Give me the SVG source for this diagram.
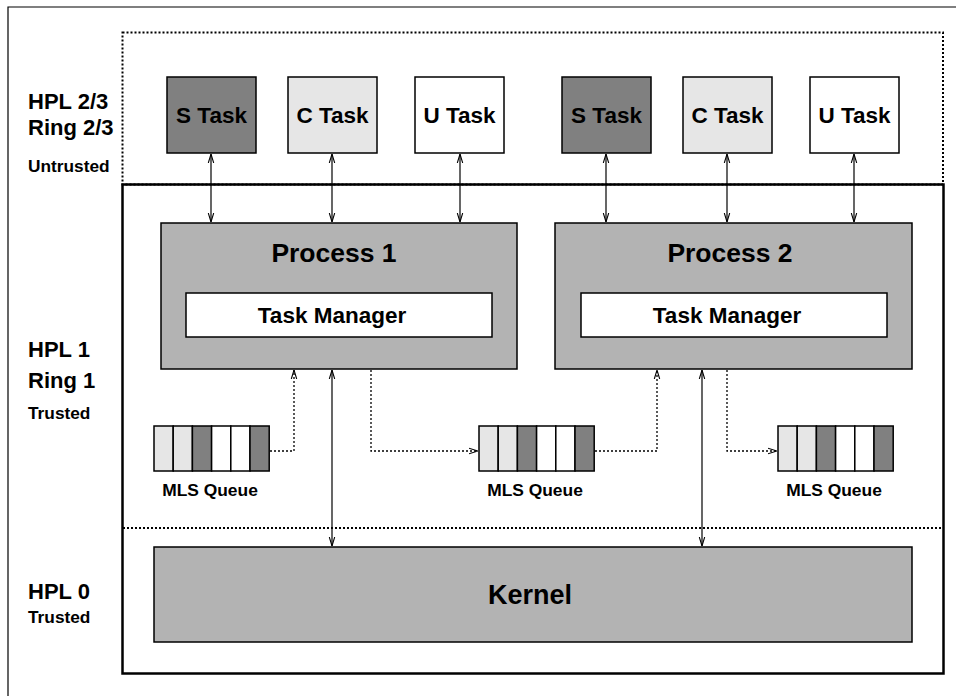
<svg xmlns="http://www.w3.org/2000/svg" width="956" height="696" viewBox="0 0 956 696">
<style>
text{font-family:"Liberation Sans",Arial,sans-serif;font-weight:bold;fill:#000}
.box{stroke:#000;stroke-width:1.5}
.dk{fill:#808080}.lt{fill:#e6e6e6}.wh{fill:#fff}.gr{fill:#b3b3b3}
.conn{stroke:#000;stroke-width:1.2;fill:none}
.dot{stroke:#000;stroke-width:1.3;fill:none;stroke-dasharray:2 2}
.tk{font-size:22.5px}
.lbl{font-size:22px}
.sm{font-size:17.3px}
.q{font-size:17.4px}
.tm{font-size:22.5px}
</style>
<defs>
<marker id="ah" viewBox="0 0 10 10" refX="10" refY="5" markerWidth="9" markerHeight="9" markerUnits="userSpaceOnUse" orient="auto-start-reverse">
<path d="M0,2 L10,5 L0,8" fill="none" stroke="#000" stroke-width="1.2"/>
</marker>
</defs>
<rect width="956" height="696" fill="#fff"/>
<!-- outer frame -->
<path d="M8,700 L8,7 L960,7" fill="none" stroke="#000" stroke-width="1.2"/>
<!-- untrusted dotted area -->
<rect x="122.5" y="32.5" width="820.5" height="152" fill="none" stroke="#000" stroke-width="2" stroke-dasharray="2 2"/>
<!-- trusted solid area -->
<rect x="122.5" y="184.5" width="821" height="489" fill="none" stroke="#000" stroke-width="2.5"/>
<line x1="123" y1="528" x2="943" y2="528" stroke="#000" stroke-width="2" stroke-dasharray="2 2"/>

<g id="labels">
<text class="lbl" x="28" y="109">HPL 2/3</text>
<text class="lbl" x="28" y="135">Ring 2/3</text>
<text class="sm" x="28" y="172">Untrusted</text>
<text class="lbl" x="28" y="357">HPL 1</text>
<text class="lbl" x="28" y="388">Ring 1</text>
<text class="sm" x="28" y="419">Trusted</text>
<text class="lbl" x="28" y="599">HPL 0</text>
<text class="sm" x="28" y="623">Trusted</text>
</g>

<g id="s-task-1"><rect class="box dk" x="167" y="77" width="89" height="76"/><text class="tk" x="211.5" y="123" text-anchor="middle">S Task</text></g>
<g id="c-task-1"><rect class="box lt" x="288" y="77" width="89" height="76"/><text class="tk" x="332.5" y="123" text-anchor="middle">C Task</text></g>
<g id="u-task-1"><rect class="box wh" x="415" y="77" width="89" height="76"/><text class="tk" x="459.5" y="123" text-anchor="middle">U Task</text></g>
<g id="s-task-2"><rect class="box dk" x="562" y="77" width="89" height="76"/><text class="tk" x="606.5" y="123" text-anchor="middle">S Task</text></g>
<g id="c-task-2"><rect class="box lt" x="683" y="77" width="89" height="76"/><text class="tk" x="727.5" y="123" text-anchor="middle">C Task</text></g>
<g id="u-task-2"><rect class="box wh" x="810" y="77" width="89" height="76"/><text class="tk" x="854.5" y="123" text-anchor="middle">U Task</text></g>

<g id="process-1">
<rect class="box gr" x="161" y="223" width="356" height="146"/>
<text x="334" y="262" font-size="26.5" text-anchor="middle">Process 1</text>
<rect class="box wh" x="186" y="293" width="306" height="44"/>
<text class="tm" x="332" y="323" text-anchor="middle">Task Manager</text>
</g>
<g id="process-2">
<rect class="box gr" x="555" y="223" width="357" height="146"/>
<text x="730" y="262" font-size="26.5" text-anchor="middle">Process 2</text>
<rect class="box wh" x="581" y="293" width="306" height="44"/>
<text class="tm" x="727" y="323" text-anchor="middle">Task Manager</text>
</g>

<g id="kernel">
<rect class="box gr" x="154" y="547" width="758" height="95"/>
<text x="530" y="604" font-size="27" text-anchor="middle">Kernel</text>
</g>

<g id="mls-queue-1">
<rect class="box lt" x="154" y="426" width="19.2" height="45"/>
<rect class="box lt" x="173.2" y="426" width="19.2" height="45"/>
<rect class="box dk" x="192.4" y="426" width="19.2" height="45"/>
<rect class="box wh" x="211.6" y="426" width="19.2" height="45"/>
<rect class="box wh" x="230.8" y="426" width="19.2" height="45"/>
<rect class="box dk" x="250" y="426" width="19.2" height="45"/>
<text class="q" x="210" y="496" text-anchor="middle">MLS Queue</text>
</g>
<g id="mls-queue-2">
<rect class="box lt" x="479" y="426" width="19.2" height="45"/>
<rect class="box lt" x="498.2" y="426" width="19.2" height="45"/>
<rect class="box dk" x="517.4" y="426" width="19.2" height="45"/>
<rect class="box wh" x="536.6" y="426" width="19.2" height="45"/>
<rect class="box wh" x="555.8" y="426" width="19.2" height="45"/>
<rect class="box dk" x="575" y="426" width="19.2" height="45"/>
<text class="q" x="535" y="496" text-anchor="middle">MLS Queue</text>
</g>
<g id="mls-queue-3">
<rect class="box lt" x="778" y="426" width="19.2" height="45"/>
<rect class="box lt" x="797.2" y="426" width="19.2" height="45"/>
<rect class="box dk" x="816.4" y="426" width="19.2" height="45"/>
<rect class="box wh" x="835.6" y="426" width="19.2" height="45"/>
<rect class="box wh" x="854.8" y="426" width="19.2" height="45"/>
<rect class="box dk" x="874" y="426" width="19.2" height="45"/>
<text class="q" x="834" y="496" text-anchor="middle">MLS Queue</text>
</g>

<g id="connectors">
<line class="conn" x1="211" y1="154" x2="211" y2="222" marker-start="url(#ah)" marker-end="url(#ah)"/>
<line class="conn" x1="332" y1="154" x2="332" y2="222" marker-start="url(#ah)" marker-end="url(#ah)"/>
<line class="conn" x1="460" y1="154" x2="460" y2="222" marker-start="url(#ah)" marker-end="url(#ah)"/>
<line class="conn" x1="606" y1="154" x2="606" y2="222" marker-start="url(#ah)" marker-end="url(#ah)"/>
<line class="conn" x1="727" y1="154" x2="727" y2="222" marker-start="url(#ah)" marker-end="url(#ah)"/>
<line class="conn" x1="854" y1="154" x2="854" y2="222" marker-start="url(#ah)" marker-end="url(#ah)"/>
<line class="conn" x1="332" y1="370" x2="332" y2="546" marker-start="url(#ah)" marker-end="url(#ah)"/>
<line class="conn" x1="702" y1="370" x2="702" y2="546" marker-start="url(#ah)" marker-end="url(#ah)"/>
<path class="dot" d="M270,451 H294 V370" marker-end="url(#ah)"/>
<path class="dot" d="M371,370 V451 H478" marker-end="url(#ah)"/>
<path class="dot" d="M595,451 H657 V370" marker-end="url(#ah)"/>
<path class="dot" d="M727,370 V451 H777" marker-end="url(#ah)"/>
</g>
</svg>
